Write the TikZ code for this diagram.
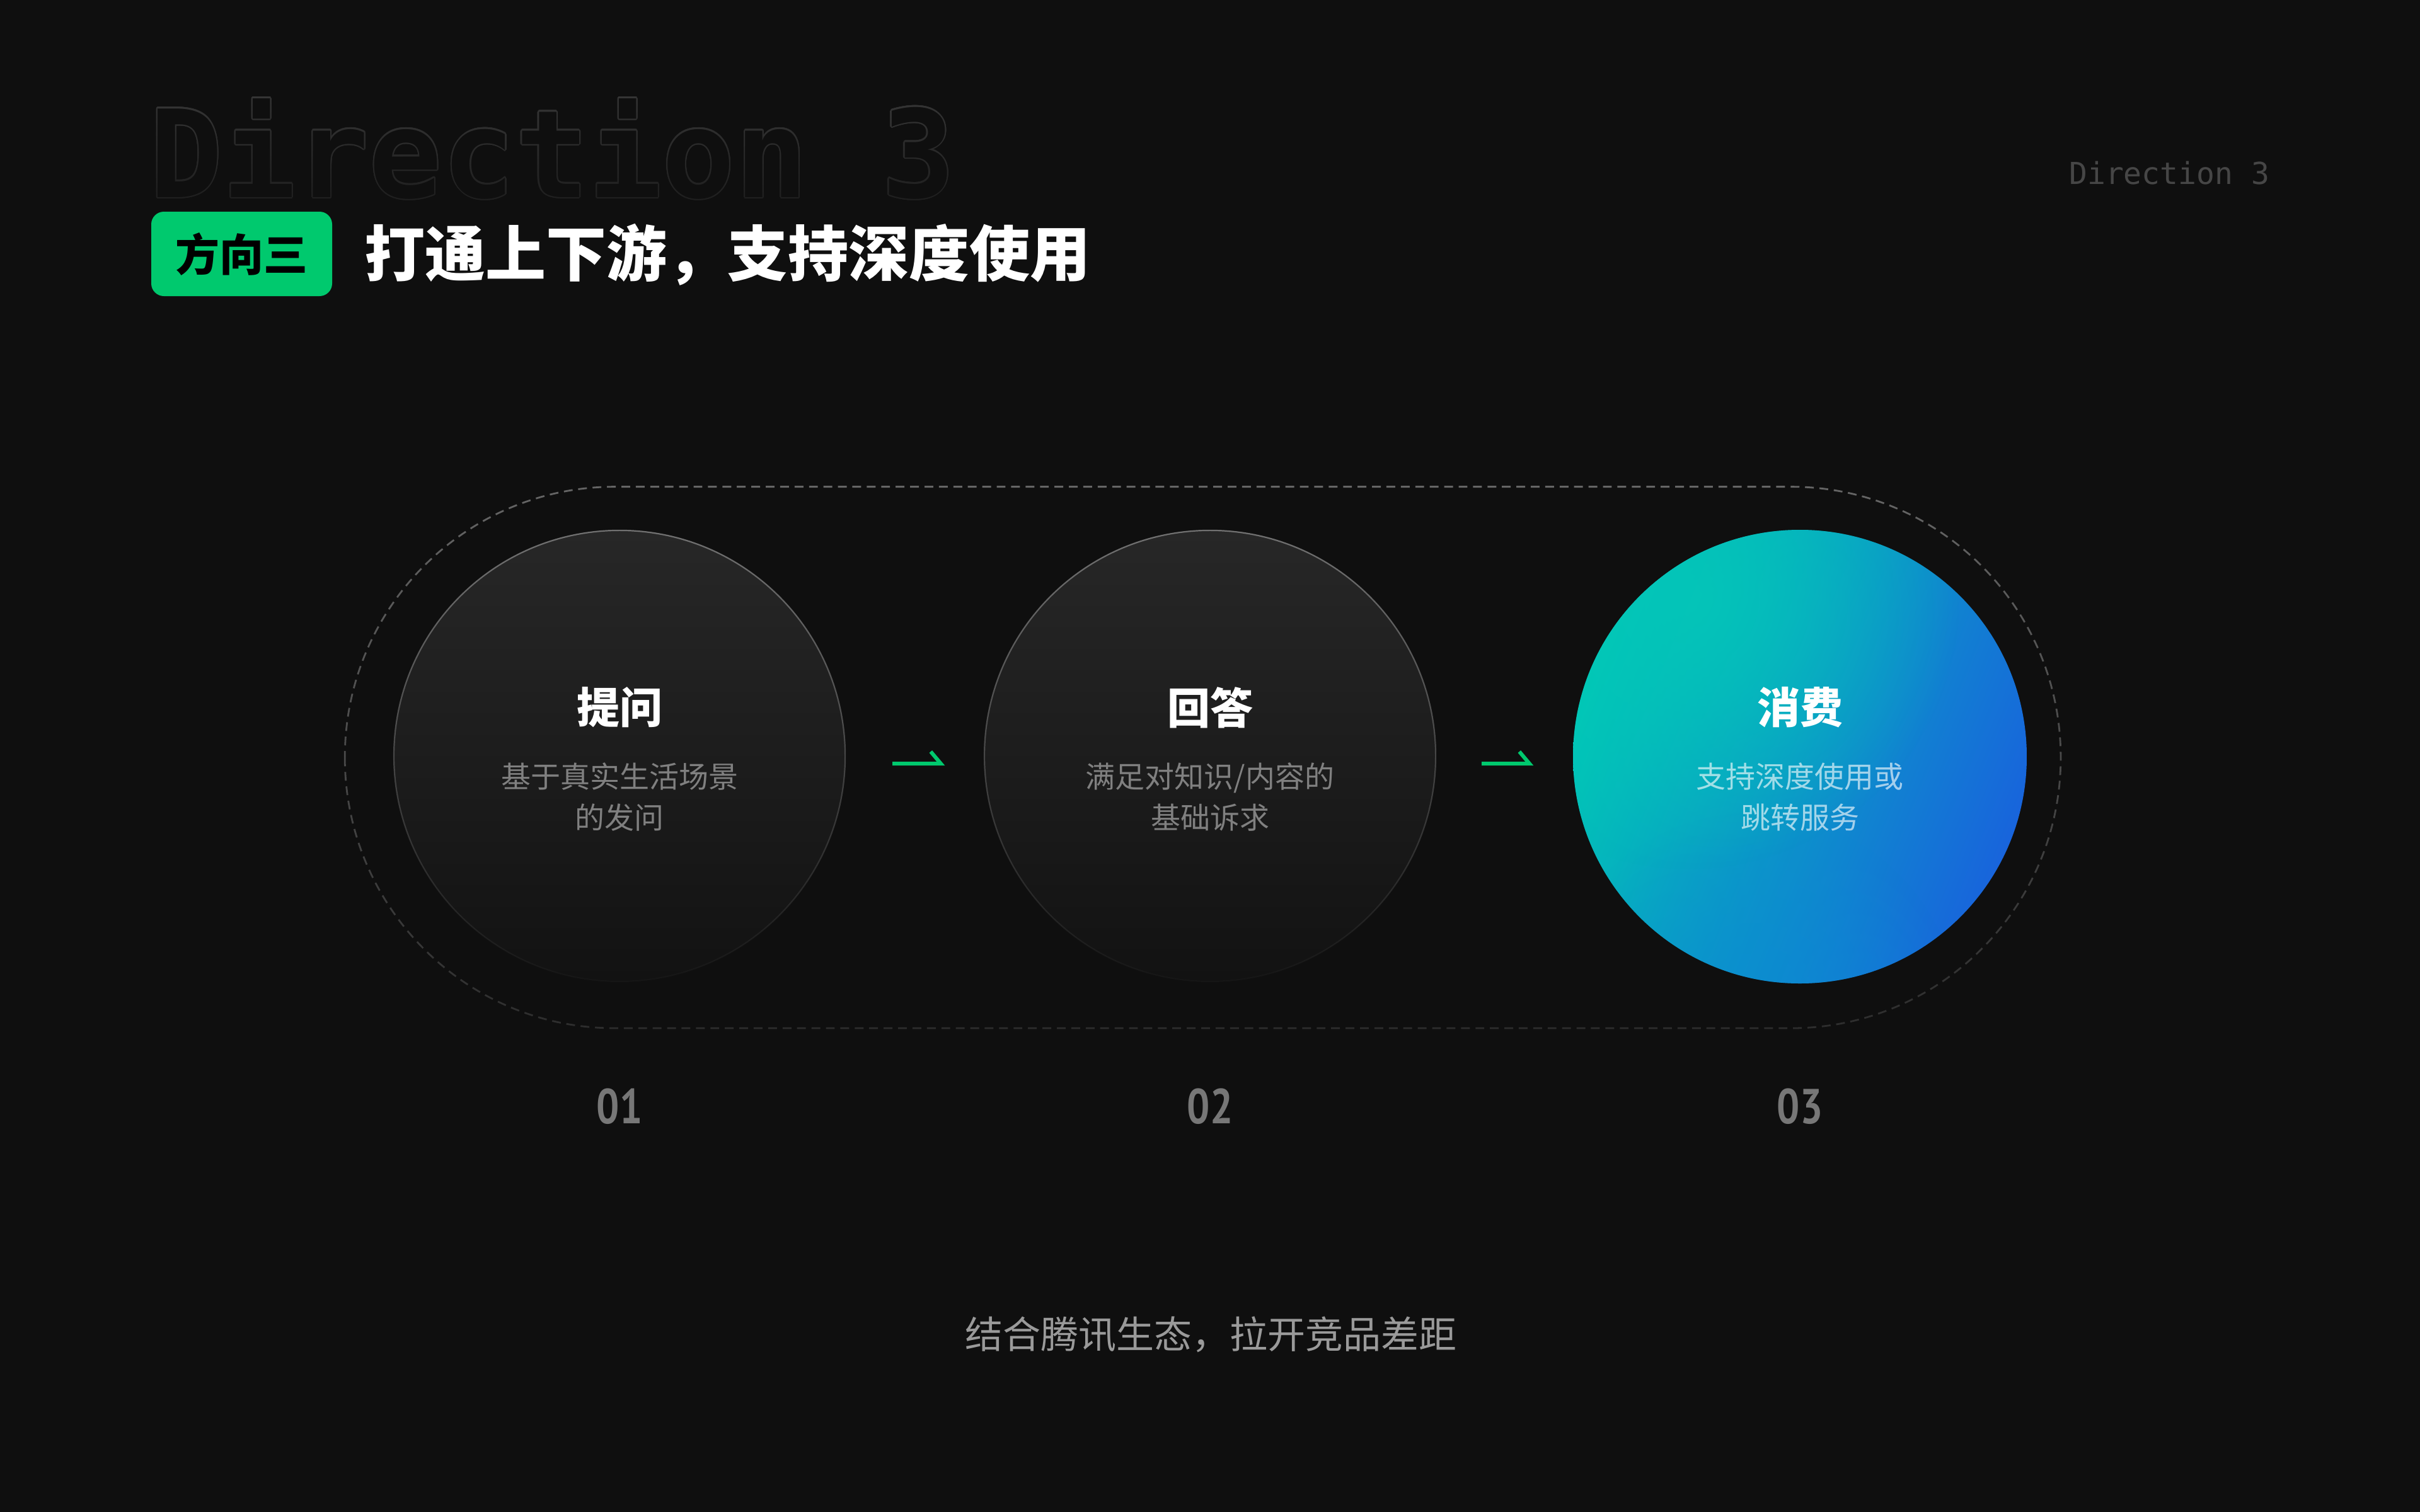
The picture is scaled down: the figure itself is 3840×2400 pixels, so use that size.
\documentclass[tikz,border=0pt]{standalone}
\usepackage{fontspec}
\usepackage{graphicx}
\newfontfamily\cjk{Noto Sans CJK SC}
\newfontfamily\monof{DejaVu Sans Mono}
\newfontfamily\numf{PT Sans}
\usetikzlibrary{fadings}
\definecolor{bg}{HTML}{0F0F0F}
\definecolor{brand}{HTML}{00C96E}
\definecolor{outl}{HTML}{363636}
\definecolor{smallgray}{HTML}{464646}
\definecolor{dashgray}{HTML}{666666}
\definecolor{ringgray}{HTML}{727272}
\definecolor{cTop}{HTML}{272727}
\definecolor{cBot}{HTML}{121212}
\definecolor{subgray}{HTML}{808080}
\definecolor{numgray}{HTML}{777777}
\definecolor{footgray}{HTML}{9A9A9A}
\definecolor{tealA}{HTML}{00C8B6}
\definecolor{blueA}{HTML}{1864DC}
\definecolor{tealB}{HTML}{04C6B8}
\definecolor{blueB}{HTML}{0A8ED2}
\tikzfading[name=ringfade, top color=transparent!0, middle color=transparent!30, bottom color=transparent!95]
\tikzfading[name=dashfade, top color=transparent!0, middle color=transparent!20, bottom color=transparent!65]
\tikzfading[name=blobfade, inner color=transparent!10, outer color=transparent!100]
\tikzfading[name=dimdown, top color=transparent!100, bottom color=transparent!40]
\begin{document}
\begin{tikzpicture}[x=1pt,y=-1pt,
  bigword/.style={anchor=base west, inner sep=0, font=\monof\bfseries\fontsize{193}{200}\selectfont},
  smallword/.style={anchor=base west, inner sep=0, text=smallgray, font=\monof\fontsize{48}{56}\selectfont},
  badge/.style={fill=brand, rounded corners=20, minimum width=287, minimum height=134, inner sep=0,
    text=black, font=\cjk\bfseries\fontsize{70}{80}\selectfont},
  headline/.style={anchor=west, inner sep=0, text=white, font=\cjk\bfseries\fontsize{96}{110}\selectfont},
  darkcirc/.style={circle, minimum size=716, inner sep=0, top color=cTop, bottom color=cBot, draw=none},
  ring/.style={draw=ringgray, line width=2.2},
  frame/.style={draw=dashgray, line width=2.8, dash pattern=on 14 off 9},
  ctitle/.style={inner sep=0, text=white, font=\cjk\bfseries\fontsize{68}{80}\selectfont},
  csub/.style={inner sep=0, align=center, text=subgray, font=\cjk\fontsize{47}{65}\selectfont},
  num/.style={inner sep=0, text=numgray, font=\numf\bfseries\fontsize{78}{90}\selectfont},
  flow/.style={draw=brand, line width=6, line join=miter, line cap=butt},
  foot/.style={inner sep=0, text=footgray, font=\cjk\fontsize{60}{70}\selectfont}
]
\fill[bg] (0,0) rectangle (3840,2400);
\useasboundingbox (0,0) rectangle (3840,2400);

% big outlined watermark
\foreach \a [count=\i] in {0,22.5,...,337.5}
  \node[bigword, text=outl, xshift={2.2*cos(\a)}, yshift={2.2*sin(\a)}] (ol\i) at (237,313) {Direction 3};
\node[bigword, text=bg] (olfill) at (237,313) {Direction 3};
\fill[bg, path fading=dimdown] (220,150) rectangle (1530,322);

\node[smallword] (small) at (3283,292) {Direction 3};

% heading
\node[badge] (badge) at (383.5,403) {方向三};
\node[headline] (title) at (578,404) {打通上下游，支持深度使用};

% dashed frame
\draw[frame, path fading=dashfade, rounded corners=430] (553,772) rectangle (3287,1632);

% circles 1 and 2
\node[darkcirc] (c1) at (983,1200) {};
\draw[ring, path fading=ringfade] (c1.center) circle[radius=358];
\node[darkcirc] (c2) at (1920,1200) {};
\draw[ring, path fading=ringfade] (c2.center) circle[radius=358];

% circle 3
\node[circle, minimum size=720, inner sep=0] (c3) at (2856,1201) {};
\begin{scope}
  \clip (c3.center) circle[radius=360];
  \shade[left color=tealA, right color=blueA, shading angle=68] (2496,841) rectangle (3216,1561);
  \fill[blueB, path fading=blobfade, fill opacity=0.7] (2780,1620) circle[radius=330];
  \fill[tealB, path fading=blobfade] (2680,950) circle[radius=430];
\end{scope}

% texts in circles
\node[ctitle] (t1) at (983,1123) {提问};
\node[csub] (s1) at (983,1265) {基于真实生活场景\\的发问};
\node[ctitle] (t2) at (1920,1123) {回答};
\node[csub] (s2) at (1920,1265) {满足对知识/内容的\\基础诉求};
\node[ctitle] (t3) at (2856,1123) {消费};
\node[csub, text=white, text opacity=0.62] (s3) at (2856,1265) {支持深度使用或\\跳转服务};

% arrows
\draw[flow] ([xshift=75,yshift=-12]c1.east) -- ([xshift=-69,yshift=-12]c2.west) -- ++(-16,-19);
\draw[flow] ([xshift=73,yshift=-12]c2.east) -- ([xshift=-69,yshift=-11]c3.west) -- ++(-16,-19);

% numbers
\node[num] (n1) at (983,1756) {\scalebox{0.82}[1]{01}};
\node[num] (n2) at (1920,1756) {\scalebox{0.82}[1]{02}};
\node[num] (n3) at (2856,1756) {\scalebox{0.82}[1]{03}};

% footer
\node[foot] (footer) at (1921,2118) {结合腾讯生态，拉开竞品差距};
\end{tikzpicture}
\end{document}
